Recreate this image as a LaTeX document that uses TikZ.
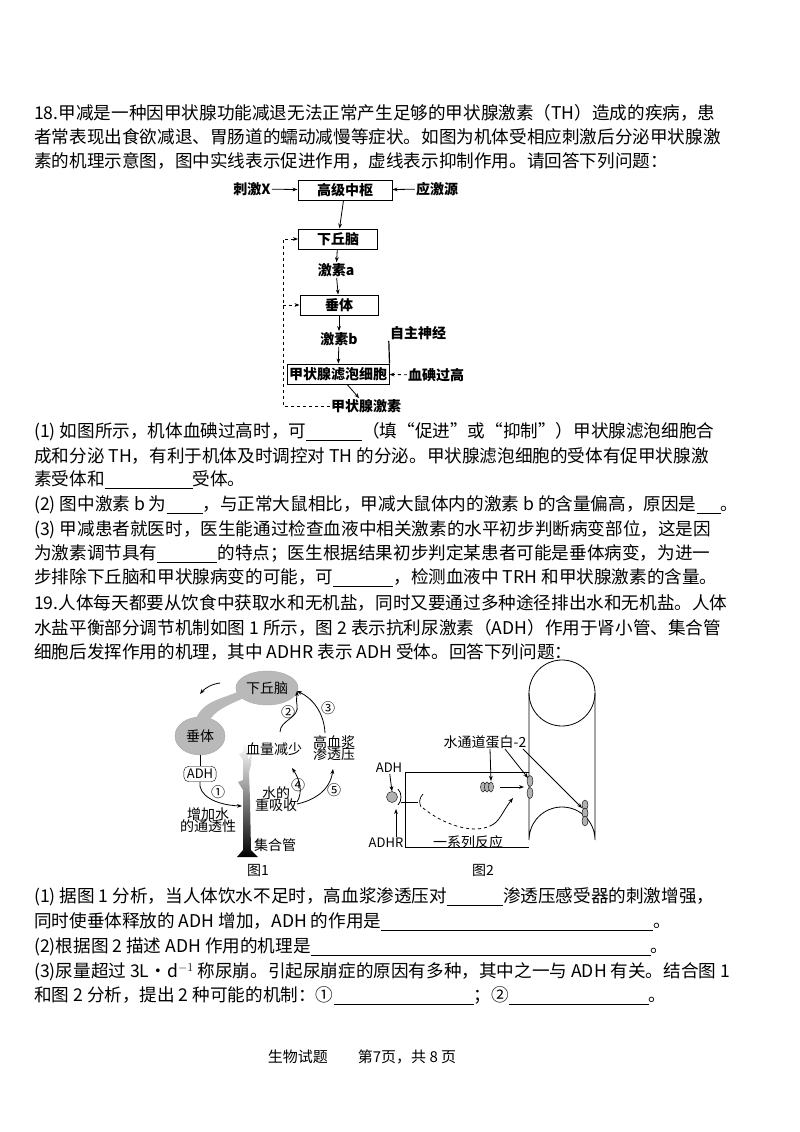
\documentclass[tikz,border=0pt]{standalone}
\usepackage{fontspec}
\setmainfont{Noto Sans CJK SC}
\usetikzlibrary{arrows.meta,shapes.geometric}
\newcommand{\ublank}[1]{\rule[-3pt]{#1}{0.6pt}}
\begin{document}
\begin{tikzpicture}[x=1pt,y=-1pt,
  txt/.style={anchor=west,inner sep=0,font=\fontsize{17.6}{18}\selectfont},
  box/.style={draw,line width=1pt,minimum height=20pt,inner sep=2pt,font=\fontsize{14}{14}\selectfont\bfseries},
  lab/.style={inner sep=1pt,font=\fontsize{14}{14}\selectfont\bfseries},
  flab/.style={inner sep=1pt,align=center,font=\fontsize{14}{15}\selectfont},
  ar/.style={-{Stealth[length=5pt]},line width=0.8pt},
  dar/.style={-{Stealth[length=5pt]},line width=0.8pt,dashed},
  blob/.style={ellipse,fill=gray!55,draw=gray!70,inner sep=1pt,font=\fontsize{14}{14}\selectfont}]
\fill[white] (0,0) rectangle (800,1132);
\useasboundingbox (0,0) rectangle (800,1132);
% Question 18 text
\node[txt] (l1) at (34,113) {18.甲减是一种因甲状腺功能减退无法正常产生足够的甲状腺激素（TH）造成的疾病，患};
\node[txt] (l2) at (34,137) {者常表现出食欲减退、胃肠道的蠕动减慢等症状。如图为机体受相应刺激后分泌甲状腺激};
\node[txt] (l3) at (34,161) {素的机理示意图，图中实线表示促进作用，虚线表示抑制作用。请回答下列问题：};
% Diagram 1
\node[box,minimum width=94pt] (gj) at (345,190) {高级中枢};
\node[lab] (cx) at (252,189) {刺激X};
\node[lab] (yj) at (437,189) {应激源};
\node[box,minimum width=79pt] (xq) at (338,239) {下丘脑};
\node[lab] (ja) at (336,270) {激素a};
\node[box,minimum width=78pt] (ct) at (339,305) {垂体};
\node[lab] (jb) at (339,339) {激素b};
\node[lab] (zz) at (418,333) {自主神经};
\node[box,minimum width=97pt] (jz) at (338,374) {甲状腺滤泡细胞};
\node[lab] (xd) at (436,375) {血碘过高};
\node[lab] (jh) at (366,406) {甲状腺激素};
\draw[ar] (cx) -- (gj);
\draw[ar] (yj) -- (gj);
\draw[ar] (gj) -- (xq);
\draw[ar] (xq) -- (ja);
\draw[ar] (ja) -- (ct);
\draw[ar] (ct) -- (jb);
\draw[ar] (jb) -- (jz);
\draw[ar] (jz) -- (jh);
\draw[line width=1.2pt] (zz.south west) -- (jz.north east);
\draw[dar] (xd) -- (jz);
\coordinate (fb) at (283,406);
\coordinate (fbm) at (283,305);
\draw[dar] (jh.west) -- (fb) -- (283,239) -- (xq.west);
\draw[dar] (fbm) -- (ct.west);
% answers 18
\node[txt] at (34,432) {(1) 如图所示，机体血碘过高时，可\ublank{56pt}（填“促进”或“抑制”）甲状腺滤泡细胞合};
\node[txt] at (34,456) {成和分泌 TH，有利于机体及时调控对 TH 的分泌。甲状腺滤泡细胞的受体有促甲状腺激};
\node[txt] at (34,480) {素受体和\ublank{88pt}受体。};
\node[txt] at (34,505) {(2) 图中激素 b 为\ublank{36pt}，与正常大鼠相比，甲减大鼠体内的激素 b 的含量偏高，原因是\ublank{24pt}。};
\node[txt] at (34,530) {(3) 甲减患者就医时，医生能通过检查血液中相关激素的水平初步判断病变部位，这是因};
\node[txt] at (34,554) {为激素调节具有\ublank{60pt}的特点；医生根据结果初步判定某患者可能是垂体病变，为进一};
\node[txt] at (34,578) {步排除下丘脑和甲状腺病变的可能，可\ublank{60pt}，检测血液中 TRH 和甲状腺激素的含量。};
\node[txt] at (34,603) {19.人体每天都要从饮食中获取水和无机盐，同时又要通过多种途径排出水和无机盐。人体};
\node[txt] at (34,628) {水盐平衡部分调节机制如图 1 所示，图 2 表示抗利尿激素（ADH）作用于肾小管、集合管};
\node[txt] at (34,652) {细胞后发挥作用的机理，其中 ADHR 表示 ADH 受体。回答下列问题：};
% Figure 1
\node[blob,minimum width=58pt,minimum height=34pt] (hq) at (267,688) {下丘脑};
\node[blob,minimum width=50pt,minimum height=38pt] (cti) at (200,736) {垂体};
\fill[gray!55] (196,718) .. controls (205,700) and (220,700) .. (242,690) -- (244,698) .. controls (225,706) and (214,712) .. (210,720) -- cycle;
\draw[ar] (220,683) .. controls (212,684) and (205,688) .. (200,694);
\node[draw,rounded corners=5pt,inner sep=3pt,font=\fontsize{13}{13}\selectfont] (adh) at (200,774) {ADH};
\draw[line width=0.7pt] (cti.south) -- (adh.north);
\coordinate (cd) at (242,806);
\draw[ar] (adh.south) .. controls (198,795) and (215,805) .. (cd);
\node[flab] (c1) at (218,792) {①};
\node[flab] (zj) at (208,820) {增加水\\[-3pt]的通透性};
\shade[top color=white,bottom color=black] (243,743) -- (247,743) -- (248,760) -- (252,752) -- (251,765) -- (249,772) -- (250,800) -- (251,850) -- (258,857) -- (237,857) -- (243,850) -- (243,790) -- (238,782) -- (243,780) -- (243,760) -- (239,754) -- (243,752) -- cycle;
\node[flab] (jhg) at (275,845) {集合管};
\node[flab] (xl) at (274,749) {血量减少};
\node[flab] (sd) at (276,799) {水的\\[-3pt]重吸收};
\node[flab] (gx) at (334,748) {高血浆\\[-3pt]渗透压};
\node[flab] at (258,870) {图1};
\coordinate (hqin) at (297,691);
\draw[ar] (280,732) .. controls (280,720) and (300,718) .. (297,705) .. controls (296,700) and (297,695) .. (hqin);
\node[flab] at (288,712) {②};
\draw[ar] (325,733) .. controls (324,712) and (312,698) .. (hqin);
\node[flab] at (328,708) {③};
\draw[ar] (297,802) .. controls (303,792) and (300,780) .. (292,768);
\node[flab] at (298,785) {④};
\draw[ar] (297,804) .. controls (315,800) and (330,790) .. (333,769);
\node[flab] at (334,790) {⑤};
% Figure 2
\draw[line width=0.8pt] (529,772) -- (405,772) -- (405,847) -- (529,847);
\draw[line width=0.8pt] (562,693) circle (33);
\draw[line width=0.8pt] (529,693) -- (529,840) arc (180:360:33) -- (595,693);
\node[flab,font=\fontsize{13}{13}\selectfont] (adh2) at (389,768) {ADH};
\node[flab,font=\fontsize{13}{13}\selectfont] (adhr) at (386,843) {ADHR};
\node[circle,fill=gray!60,draw,inner sep=0,minimum size=11pt] (rc) at (392,797) {};
\draw[line width=0.8pt] (398,789) .. controls (402,793) and (402,801) .. (398,805);
\draw[ar] (adh2) -- (rc.north);
\draw[ar] (adhr.north -| 396,0) -- (396,809);
\draw[line width=0.7pt] (401,802) -- (418,802);
\draw[line width=0.7pt] (423,794) .. controls (419,798) and (419,803) .. (421,807);
\draw[line width=0.8pt,dashed] (423,808) .. controls (440,822) and (470,835) .. (490,826);
\draw[ar] (490,826) .. controls (500,822) and (502,812) .. (513,798);
\node[flab] (yx) at (468,842) {一系列反应};
\foreach \dx in {-4,0,4} \draw[fill=gray!60] (487+\dx,787) ellipse (2.5pt and 5pt);
\coordinate (vs) at (491,781);
\node[flab] (sp) at (485,742) {水通道蛋白-2};
\draw[ar] (500,787) -- (524,787);
\draw[fill=gray!60] (530,781) ellipse (3pt and 5.5pt);
\draw[fill=gray!60] (530,793) ellipse (3pt and 5.5pt);
\foreach \dy in {805,813,821} \draw[fill=gray!60] (585,\dy) ellipse (3pt and 5pt);
\draw[ar] (490,749) -- (vs);
\draw[ar] (505,749) -- (528,778);
\draw[ar] (523,749) -- (582,808);
\node[flab] at (483,870) {图2};
% answers 19
\node[txt] at (34,897) {(1) 据图 1 分析，当人体饮水不足时，高血浆渗透压对\ublank{56pt}渗透压感受器的刺激增强，};
\node[txt] at (34,922) {同时使垂体释放的 ADH 增加，ADH 的作用是\ublank{272pt}。};
\node[txt] at (34,947) {(2)根据图 2 描述 ADH 作用的机理是\ublank{340pt}。};
\node[txt] at (34,972) {(3)尿量超过 3L·d$^{-1}$ 称尿崩。引起尿崩症的原因有多种，其中之一与 ADH 有关。结合图 1};
\node[txt] at (34,996) {和图 2 分析，提出 2 种可能的机制：①\ublank{140pt}；②\ublank{140pt}。};
\node[txt,anchor=center,font=\fontsize{15}{16}\selectfont] at (362,1057) {生物试题\quad\quad 第7页，共 8 页};
\end{tikzpicture}
\end{document}
